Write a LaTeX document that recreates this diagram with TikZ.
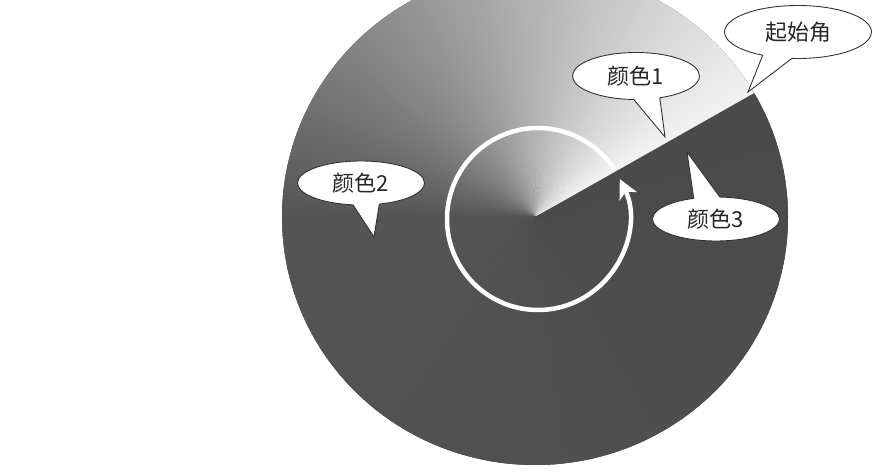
\documentclass[tikz,border=0pt]{standalone}
\usepackage{fontspec}
\newfontfamily\cjk{Noto Sans CJK SC}
\usetikzlibrary{shapes,arrows.meta}
\tikzset{%
bubble/.style={ellipse callout, draw=black!80, line width=0.9pt, fill=white, minimum width=127pt, minimum height=44pt, inner sep=0pt, callout pointer arc=24, text=black!85, font=\cjk\fontsize{22}{24}\selectfont},
ring/.style={draw=white, line width=4.5pt, -{Stealth[length=19pt,width=19pt,inset=5pt]}}
}

\begin{document}
\begin{tikzpicture}[x=1pt,y=1pt]
		\useasboundingbox (0,0) rectangle (887,474);
		\clip (0,0) rectangle (887,474);
		\coordinate (apex) at (535,257);
		\coordinate (rc) at (538,255);
		
		% dark part, then the sweep from the start angle
		\fill[black!71] (apex) ellipse [x radius=253, y radius=248];
		\foreach \t in {0,1,...,358}{
			\pgfmathsetmacro\d{\t<150 ? 5+62*(\t/150) : 67+4*((\t-150)/210)}
			\fill[black!\d] (apex) -- +(30+\t:253 and 248) -- +(31.5+\t:253 and 248) -- cycle;
		}
		
		\draw[ring] (rc) ++(33:91) arc [start angle=33, end angle=386, radius=91];
		
		\coordinate (tipstart) at (748,382);
		\coordinate (tipone) at (665,337);
		\coordinate (tiptwo) at (374,237);
		\coordinate (tipthree) at (687,322);
		
		\node[bubble, minimum width=147pt, minimum height=53pt, callout absolute pointer=(tipstart)] (startang) at (798,442) {起始角};
		\node[bubble, minimum height=47pt, callout absolute pointer=(tipone)] (colone) at (636,398) {颜色1};
		\node[bubble, callout absolute pointer=(tiptwo)] (coltwo) at (361,291) {颜色2};
		\node[bubble, callout absolute pointer=(tipthree)] (colthree) at (716,255) {颜色3};
	\end{tikzpicture}
\end{document}
